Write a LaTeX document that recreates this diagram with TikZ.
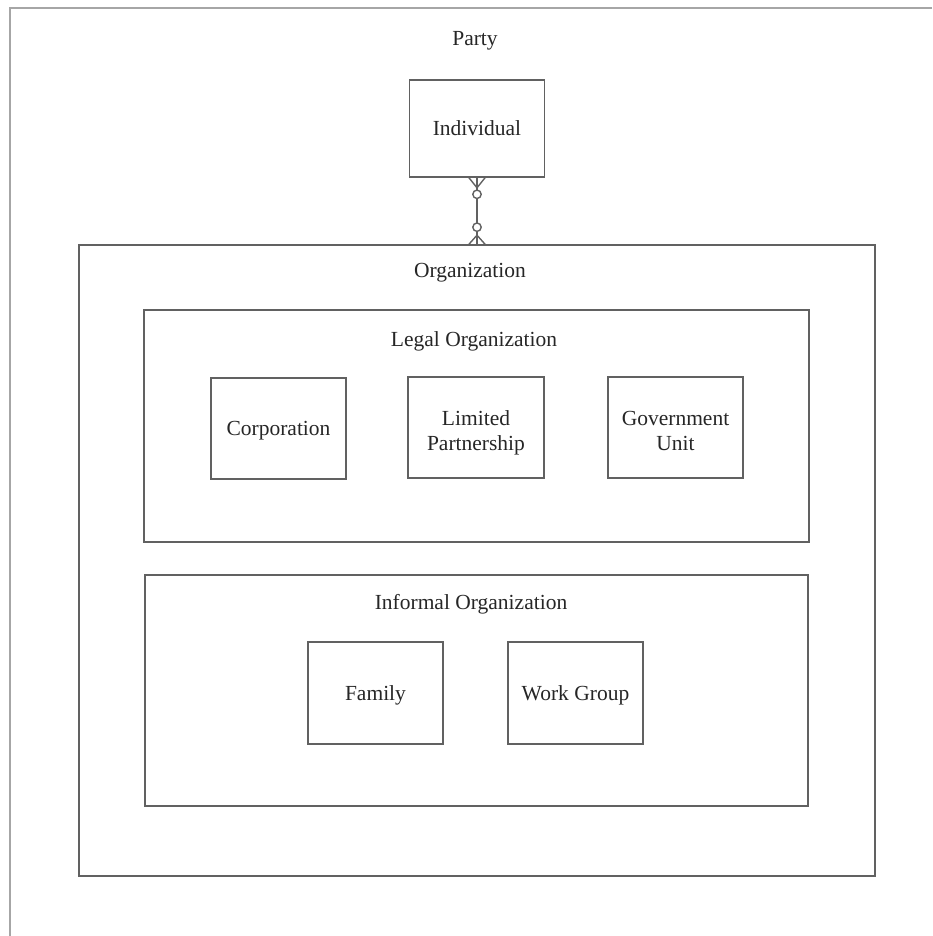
\documentclass[tikz,border=0pt]{standalone}
\usepackage{fontspec}
\setmainfont{Liberation Serif}
\begin{document}
\begin{tikzpicture}[x=1pt,y=-1pt,
  ln/.style={draw=black!62,line width=1.6pt},
  box/.style={ln,rectangle,inner sep=0pt,align=center,text depth=0pt,font=\fontsize{21.5}{24}\selectfont,text=black!85},
  twoline/.style={font=\fontsize{21.5}{24.5}\selectfont,text height=45pt},
  lbl/.style={inner sep=0pt,text depth=0pt,font=\fontsize{21.5}{24}\selectfont,text=black!85},
  frame/.style={draw=black!35,line width=2pt}]
\useasboundingbox (0,0) rectangle (932,936);
% outer frame (only top and left edges visible)
\coordinate (ftl) at (10,8);
\coordinate (ftr) at (932,8);
\coordinate (fbl) at (10,936);
\draw[frame] (ftr) -- (ftl) -- (fbl);

\node[lbl] (party) at (475,38) {Party};
\node[box,minimum width=135pt,minimum height=97pt] (ind) at (477,128.5) {Individual};

\node[box,minimum width=796pt,minimum height=631pt] (org) at (477,560.5) {};
\node[lbl] (orglbl) at (470,270) {Organization};

\node[box,minimum width=665pt,minimum height=232pt] (legal) at (476.5,426) {};
\node[lbl] (legallbl) at (474,339.5) {Legal Organization};
\node[box,minimum width=135pt,minimum height=101pt] (corp) at (278.5,428.5) {Corporation};
\node[box,twoline,minimum width=136pt,minimum height=101pt] (lp) at (476,427.5) {Limited\\Partnership};
\node[box,twoline,minimum width=135pt,minimum height=101pt] (gov) at (675.5,427.5) {Government\\Unit};

\node[box,minimum width=663pt,minimum height=231pt] (inf) at (476.5,690.5) {};
\node[lbl] (inflbl) at (471,602) {Informal Organization};
\node[box,minimum width=135pt,minimum height=102pt] (fam) at (375.5,693) {Family};
\node[box,minimum width=135pt,minimum height=102pt] (wg) at (575.5,693) {Work Group};

% relationship Individual -- Organization
\draw[ln,line width=1.4pt] (ind.south) -- (org.north);
% crow's foot at Individual
\draw[ln,line width=1.4pt] (ind.south) ++(-8,0) -- ++(8,10) -- ++(8,-10);
\draw[ln,line width=1.4pt,fill=white] (ind.south) ++(0,16.5) circle[radius=4.2pt];
% crow's foot at Organization
\draw[ln,line width=1.4pt] (org.north) ++(-8,0) -- ++(8,-9) -- ++(8,9);
\draw[ln,line width=1.4pt,fill=white] (org.north) ++(0,-17) circle[radius=4.2pt];
\end{tikzpicture}
\end{document}
